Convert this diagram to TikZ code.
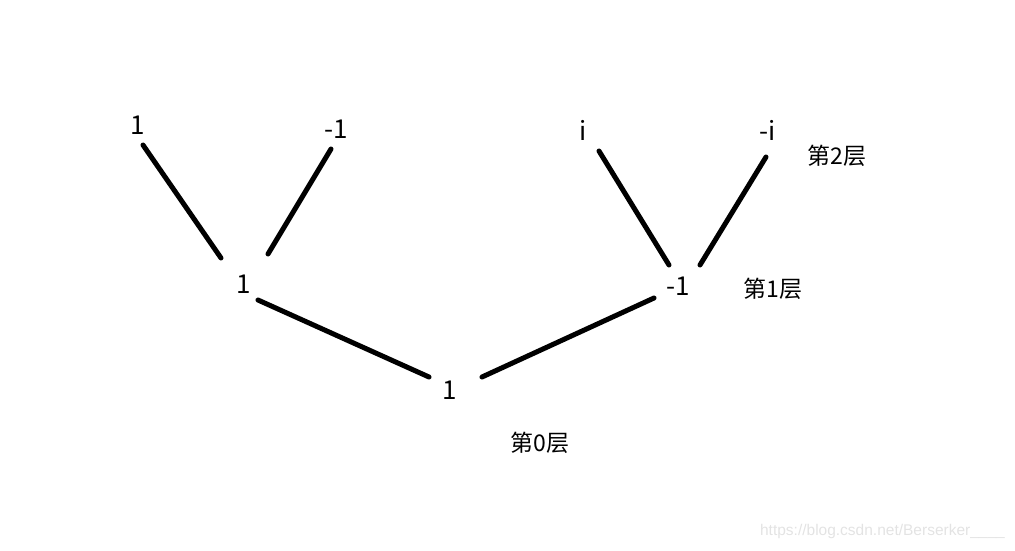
\documentclass[tikz,border=0pt]{standalone}
\usepackage{fontspec}
\setmainfont{Noto Sans CJK SC}
\newfontfamily\wmfont{Liberation Sans}
\begin{document}
\begin{tikzpicture}[x=1pt,y=-1pt,
  val/.style={inner sep=0pt, font=\fontsize{26}{26}\selectfont},
  lvl/.style={inner sep=0pt, font=\fontsize{23}{23}\selectfont},
  edge/.style={line width=5pt, line cap=round}]
\useasboundingbox (0,0) rectangle (1015,550);
% value nodes
\node[val] (a2) at (138,125) {1};
\node[val] (b2) at (336,129) {-1};
\node[val] (c2) at (583,130) {i};
\node[val] (d2) at (768,130) {-i};
\node[val] (a1) at (244,284) {1};
\node[val] (b1) at (678,286) {-1};
\node[val] (r0) at (450,390) {1};
% level labels
\node[lvl] (l2) at (837,156) {第2层};
\node[lvl] (l1) at (773,289) {第1层};
\node[lvl] (l0) at (540,443) {第0层};
% connector end points
\coordinate (a2s) at (143,145); \coordinate (a1n) at (221,258);
\coordinate (b2s) at (331,149); \coordinate (a1e) at (268,254);
\coordinate (a1s) at (258,300); \coordinate (r0w) at (429,377);
\coordinate (r0e) at (482,377); \coordinate (b1w) at (654,298);
\coordinate (c2s) at (599,151); \coordinate (b1n) at (669,265);
\coordinate (d2s) at (766,157); \coordinate (b1e) at (700,265);
\draw[edge] (a2s) -- (a1n);
\draw[edge] (b2s) -- (a1e);
\draw[edge] (a1s) -- (r0w);
\draw[edge] (r0e) -- (b1w);
\draw[edge] (c2s) -- (b1n);
\draw[edge] (d2s) -- (b1e);
% watermark
\node[inner sep=0pt, anchor=east, text=black!11, font=\wmfont\fontsize{15.5}{15.5}\selectfont] (wm) at (1005,531) {https://blog.csdn.net/Berserker\_\_\_\_};
\end{tikzpicture}
\end{document}
